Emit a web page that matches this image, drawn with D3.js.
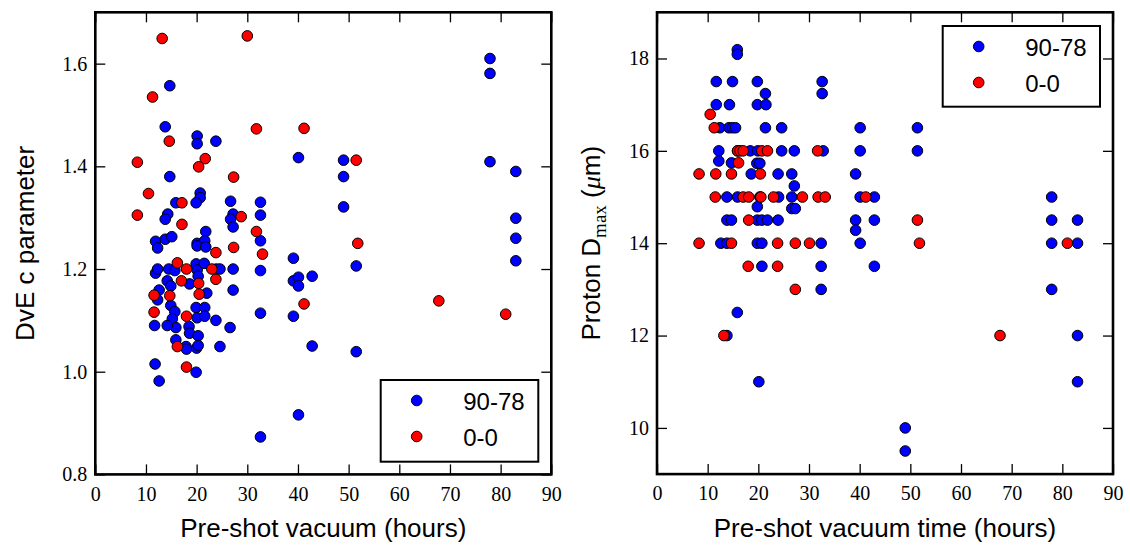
<!DOCTYPE html>
<html>
<head>
<meta charset="utf-8">
<script src="https://cdnjs.cloudflare.com/ajax/libs/d3/7.8.5/d3.min.js"></script>
<style>
  html, body { margin: 0; padding: 0; background: #fff; }
  svg { display: block; }
</style>
</head>
<body>
<svg id="chart" width="1130" height="545"></svg>
<script>
// ---------------- DATA ----------------
const seriesNames = ["90-78", "0-0"];
const seriesColors = ["#0000ff", "#ff0000"];

const xTicks = [0, 10, 20, 30, 40, 50, 60, 70, 80, 90];
const leftYTicks = [0.8, 1.0, 1.2, 1.4, 1.6];
const rightYTicks = [10, 12, 14, 16, 18];

// Left panel: DvE c parameter vs pre-shot vacuum (hours)
const leftBlue = [
  [14.7,1.557],[13.8,1.477],[20.1,1.459],[20.1,1.444],[23.8,1.449],[14.7,1.380],[20.7,1.348],[20.7,1.339],
  [15.9,1.329],[19.9,1.329],[26.7,1.332],[32.6,1.330],[14.3,1.307],[13.8,1.297],[27.2,1.307],[26.7,1.297],
  [32.6,1.305],[27.2,1.282],[32.6,1.255],[21.8,1.273],[11.9,1.254],[13.8,1.258],[15.1,1.263],[12.3,1.241],
  [20.1,1.250],[21.6,1.255],[20.1,1.245],[21.8,1.243],[11.9,1.192],[12.3,1.200],[14.5,1.200],[15.7,1.197],
  [19.9,1.210],[20.1,1.198],[21.5,1.211],[23.9,1.200],[24.6,1.200],[27.2,1.200],[32.6,1.197],[20.3,1.186],
  [14.2,1.177],[14.9,1.167],[18.6,1.171],[22.0,1.153],[12.6,1.159],[12.3,1.140],[27.2,1.159],[32.6,1.114],
  [14.9,1.129],[15.7,1.117],[19.9,1.125],[21.6,1.125],[15.2,1.103],[15.9,1.086],[11.7,1.090],[14.2,1.090],
  [20.1,1.105],[21.6,1.108],[18.5,1.088],[18.6,1.075],[23.8,1.100],[26.6,1.086],[20.3,1.070],[15.9,1.062],
  [17.9,1.049],[18.0,1.044],[20.0,1.046],[20.3,1.051],[24.6,1.049],[11.8,1.015],[19.9,0.999],[12.6,0.982],
  [77.9,1.610],[77.9,1.581],[40.1,1.417],[49.0,1.412],[77.9,1.409],[83.0,1.390],[49.0,1.380],[49.0,1.321],
  [39.1,1.221],[51.5,1.206],[83.0,1.299],[83.0,1.260],[83.0,1.216],[39.1,1.177],[40.1,1.184],[40.1,1.167],
  [42.8,1.186],[39.1,1.108],[42.8,1.050],[51.5,1.039],[40.1,0.916],[32.6,0.873]
];
const leftRed = [
  [13.2,1.649],[30.0,1.654],[11.3,1.535],[31.8,1.473],[14.6,1.449],[8.3,1.408],[21.7,1.415],[20.4,1.399],
  [27.3,1.379],[10.5,1.347],[17.1,1.329],[8.3,1.305],[28.8,1.302],[17.1,1.287],[31.8,1.273],[33.0,1.229],
  [23.8,1.232],[27.3,1.242],[16.2,1.212],[18.0,1.200],[23.0,1.200],[17.0,1.177],[20.4,1.172],[23.8,1.180],
  [11.6,1.149],[14.7,1.148],[20.5,1.151],[11.6,1.116],[18.0,1.108],[16.2,1.049],[18.0,1.009],[41.2,1.474],
  [41.2,1.132],[51.5,1.412],[51.8,1.250],[67.8,1.138],[81.0,1.112]
];

// Right panel: Proton Dmax (um) vs pre-shot vacuum time (hours)
const rightBlue = [
  [15.85,18.19],[15.85,18.09],[11.7,17.5],[14.9,17.5],[19.8,17.5],[32.6,17.5],[21.4,17.24],[32.6,17.24],
  [11.7,17],[14.3,17],[19.8,17],[21.5,17],[12.4,16.5],[14.2,16.5],[14.9,16.5],[15.5,16.5],[21.4,16.5],
  [24.6,16.5],[40.1,16.5],[51.4,16.5],[12.2,16],[15.9,16],[18.4,16],[19.9,16],[24.6,16],[27.1,16],
  [32.8,16],[40.1,16],[51.4,16],[12.2,15.78],[14.7,15.74],[19.7,15.73],[20.3,15.73],[18.6,15.5],[23.9,15.5],
  [26.6,15.5],[39.2,15.5],[27.1,15.24],[13.8,15],[15.9,15],[20.3,15],[24.0,15],[26.6,15],[40.1,15],
  [42.9,15],[77.9,15],[19.8,14.79],[26.6,14.75],[27.3,14.75],[13.8,14.5],[14.7,14.5],[19.8,14.5],
  [20.7,14.5],[21.8,14.5],[23.9,14.5],[39.2,14.5],[42.9,14.5],[77.9,14.5],[83.0,14.5],[39.2,14.28],
  [12.6,14],[13.8,14],[19.8,14],[20.7,14],[32.4,14],[40.1,14],[77.9,14],[83.0,14],[20.7,13.5],[32.4,13.5],
  [42.9,13.5],[32.4,13],[77.9,13],[15.85,12.5],[13.8,12],[83.0,12],[20.1,11],[83.0,11],[49.0,10],[49.0,9.5]
];
const rightRed = [
  [10.5,16.79],[11.3,16.5],[15.9,16],[16.4,16],[17.0,16],[20.7,16],[21.8,16],[31.7,16],[16.1,15.74],
  [8.3,15.5],[11.6,15.5],[14.7,15.5],[20.4,15.5],[11.5,15],[17.0,15],[18.1,15],[20.5,15],[23.0,15],
  [28.7,15],[31.8,15],[33.2,15],[41.2,15],[18.1,14.5],[51.4,14.5],[8.3,14],[14.7,14],[23.8,14],[27.3,14],
  [30.1,14],[51.8,14],[81.0,14],[18.0,13.5],[23.8,13.5],[27.3,13],[13.2,12],[67.7,12]
];

// ---------------- DRAW ----------------
const svg = d3.select("#chart");
svg.append("rect").attr("width", 1130).attr("height", 545).attr("fill", "#fff");

const TICK_FONT = "'Liberation Serif', 'Times New Roman', serif";
const LABEL_FONT = "'Liberation Sans', Arial, Helvetica, sans-serif";
const R = 5.3;

function drawPanel(cfg) {
  const x = d3.scaleLinear().domain([0, 90]).range([cfg.x0, cfg.x1]);
  const y = d3.scaleLinear().domain(cfg.yDomain).range([cfg.y0, cfg.y1]);
  const g = svg.append("g");

  // points: blue first, red on top
  [cfg.blue, cfg.red].forEach((data, i) => {
    g.append("g").selectAll("circle").data(data).join("circle")
      .attr("cx", d => x(d[0])).attr("cy", d => y(d[1])).attr("r", R)
      .attr("fill", seriesColors[i]).attr("stroke", "#000").attr("stroke-width", 1);
  });

  const styleAxis = (sel) => {
    sel.select(".domain").remove();
    sel.selectAll(".tick line").attr("stroke", "#000").attr("stroke-width", 1.3);
    sel.selectAll(".tick text").attr("font-family", TICK_FONT).attr("font-size", 20).attr("fill", "#000");
  };

  // bottom
  g.append("g").attr("transform", `translate(0,${cfg.y0})`)
    .call(d3.axisBottom(x).tickValues(xTicks).tickSize(-10).tickPadding(12).tickFormat(d3.format("d")))
    .call(styleAxis);
  // top
  g.append("g").attr("transform", `translate(0,${cfg.y1})`)
    .call(d3.axisTop(x).tickValues(xTicks).tickSize(-10).tickFormat(""))
    .call(styleAxis);
  // left
  g.append("g").attr("transform", `translate(${cfg.x0},0)`)
    .call(d3.axisLeft(y).tickValues(cfg.yTicks).tickSize(-10).tickPadding(8).tickFormat(cfg.yFormat))
    .call(styleAxis);
  // right
  g.append("g").attr("transform", `translate(${cfg.x1},0)`)
    .call(d3.axisRight(y).tickValues(cfg.yTicks).tickSize(-10).tickFormat(""))
    .call(styleAxis);

  // frame
  g.append("rect").attr("x", cfg.x0).attr("y", cfg.y1)
    .attr("width", cfg.x1 - cfg.x0).attr("height", cfg.y0 - cfg.y1)
    .attr("fill", "none").attr("stroke", "#000").attr("stroke-width", 2.6);

  // x label
  g.append("text").attr("x", (cfg.x0 + cfg.x1) / 2).attr("y", 536.5)
    .attr("text-anchor", "middle").attr("font-family", LABEL_FONT).attr("font-size", 26)
    .attr("fill", "#000").text(cfg.xLabel);

  // y label
  const yl = g.append("text")
    .attr("transform", `translate(${cfg.yLabelX},${(cfg.y0 + cfg.y1) / 2}) rotate(-90)`)
    .attr("text-anchor", "middle").attr("font-family", LABEL_FONT).attr("font-size", 26).attr("fill", "#000");
  cfg.yLabel(yl);

  // legend
  const L = cfg.legend;
  const lg = g.append("g");
  lg.append("rect").attr("x", L.x).attr("y", L.y).attr("width", L.w).attr("height", L.h)
    .attr("fill", "#fff").attr("stroke", "#000").attr("stroke-width", 2);
  seriesNames.forEach((name, i) => {
    const cy = L.y + 20.5 + i * 36;
    lg.append("circle").attr("cx", L.x + 36).attr("cy", cy).attr("r", R)
      .attr("fill", seriesColors[i]).attr("stroke", "#000").attr("stroke-width", 1);
    lg.append("text").attr("x", L.x + 82.5).attr("y", cy + 9.5)
      .attr("font-family", LABEL_FONT).attr("font-size", 24).attr("fill", "#000").text(name);
  });
}

drawPanel({
  x0: 95.3, x1: 551.3, y0: 474.4, y1: 12.3,
  yDomain: [0.8, 1.7], yTicks: leftYTicks, yFormat: d3.format(".1f"),
  blue: leftBlue, red: leftRed,
  xLabel: "Pre-shot vacuum (hours)",
  yLabelX: 34,
  yLabel: t => t.text("DvE c parameter"),
  legend: { x: 380.7, y: 380, w: 157.6, h: 81.7 }
});

drawPanel({
  x0: 657, x1: 1113, y0: 474.1, y1: 12.3,
  yDomain: [9, 19], yTicks: rightYTicks, yFormat: d3.format("d"),
  blue: rightBlue, red: rightRed,
  xLabel: "Pre-shot vacuum time (hours)",
  yLabelX: 600,
  yLabel: t => {
    t.append("tspan").text("Proton D");
    t.append("tspan").attr("dy", 6).attr("font-family", TICK_FONT).attr("font-size", 19).text("max");
    t.append("tspan").attr("dy", -6).text(" (");
    t.append("tspan").attr("font-family", TICK_FONT).attr("font-style", "italic").text("\u03BC");
    t.append("tspan").text("m)");
  },
  legend: { x: 942.7, y: 26, w: 157.3, h: 80.7 }
});
</script>
</body>
</html>
